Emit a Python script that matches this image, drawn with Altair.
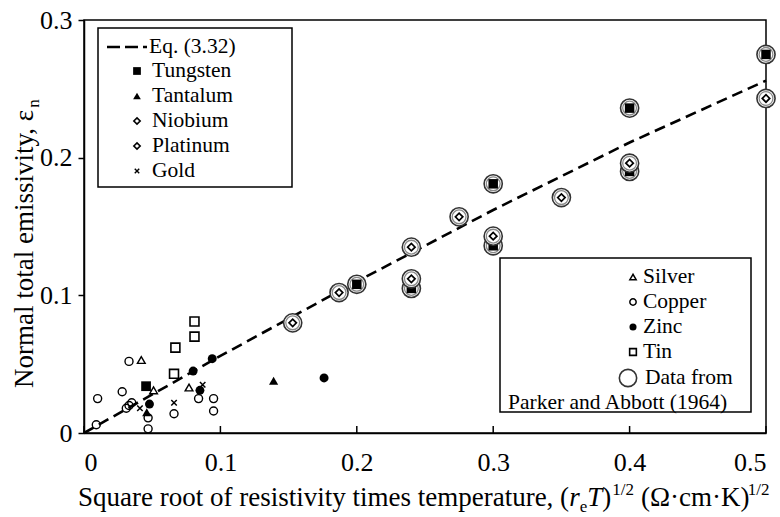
import altair as alt
import pandas as pd

# ---- Eq. (3.32) curve ----
eq_x = [0.0, 0.1, 0.2, 0.3, 0.4, 0.5]
eq_y = [0.0, 0.056, 0.110, 0.162, 0.211, 0.256]

# ---- measured points, by material ----
tungsten_x = [0.0455]
tungsten_y = [0.034]
tantalum_x = [0.046, 0.139]
tantalum_y = [0.015, 0.038]
gold_x = [0.041, 0.066, 0.087]
gold_y = [0.018, 0.022, 0.035]
silver_x = [0.042, 0.051, 0.077]
silver_y = [0.053, 0.031, 0.033]
copper_x = [0.010, 0.009, 0.033, 0.028, 0.031, 0.033, 0.035, 0.047, 0.047, 0.066, 0.084, 0.095, 0.095]
copper_y = [0.025, 0.006, 0.052, 0.030, 0.018, 0.020, 0.022, 0.011, 0.003, 0.014, 0.025, 0.025, 0.016]
zinc_x = [0.048, 0.080, 0.094, 0.085, 0.176]
zinc_y = [0.021, 0.045, 0.054, 0.031, 0.040]
tin_x = [0.067, 0.066, 0.081, 0.081]
tin_y = [0.062, 0.043, 0.081, 0.070]

# Parker and Abbott (1964): tungsten and niobium/platinum values
pa_w_x = [0.2, 0.24, 0.3, 0.3, 0.4, 0.4, 0.5]
pa_w_y = [0.108, 0.105, 0.136, 0.181, 0.190, 0.236, 0.275]
pa_d_x = [0.153, 0.187, 0.24, 0.24, 0.275, 0.3, 0.35, 0.4, 0.5]
pa_d_y = [0.080, 0.102, 0.112, 0.135, 0.157, 0.143, 0.171, 0.196, 0.243]

x_ticks = [0, 0.1, 0.2, 0.3, 0.4, 0.5]
y_ticks = [0, 0.1, 0.2, 0.3]

legend_a = ["Tungsten", "Tantalum", "Niobium", "Platinum", "Gold"]
legend_b = ["Silver", "Copper", "Zinc", "Tin"]

FONT = "Liberation Serif"
W, H = 682, 413
LEFT, TOP = 84, 20
LF = 21.5   # legend text size
TF = 27     # axis title size
SF = 17     # sub/superscript size

X_SHAPE = "M-1,-1L1,1M-1,1L1,-1"

xs = alt.Scale(domain=[0, 0.5], nice=False, zero=False)
ys = alt.Scale(domain=[0, 0.3], nice=False, zero=False)
x_axis = alt.Axis(values=x_ticks, format="~g", ticks=False, labelPadding=16,
                  labelFont=FONT, labelFontSize=26, labelColor="black",
                  domainColor="black", domainWidth=1.5, grid=False, title=None)
y_axis = alt.Axis(values=y_ticks, format="~g", tickSize=6, tickWidth=1.5,
                  tickColor="black", labelPadding=6, labelFont=FONT,
                  labelFontSize=26, labelColor="black", domainColor="black",
                  domainWidth=1.5, grid=False, title=None)


def xy_frame(xv, yv):
    return pd.DataFrame({"x": xv, "y": yv})


def enc(chart):
    return chart.encode(x=alt.X("x:Q", scale=xs, axis=x_axis),
                        y=alt.Y("y:Q", scale=ys, axis=y_axis))


def points(xv, yv, **mark):
    return enc(alt.Chart(xy_frame(xv, yv)).mark_point(**mark))


one = pd.DataFrame({"k": [0]})


def px_point(px, py, **mark):
    return alt.Chart(one).mark_point(**mark).encode(
        x=alt.value(px - LEFT), y=alt.value(py - TOP))


def px_text(px, py, txt, size, **mark):
    return alt.Chart(one).mark_text(text=txt, font=FONT, fontSize=size,
                                    color="black", **mark).encode(
        x=alt.value(px - LEFT), y=alt.value(py - TOP))


def px_box(x1, y1, x2, y2):
    return alt.Chart(one).mark_rect(fill="white", stroke="black",
                                    strokeWidth=1.5).encode(
        x=alt.value(x1 - LEFT), x2=alt.value(x2 - LEFT),
        y=alt.value(y1 - TOP), y2=alt.value(y2 - TOP))


# Times / Liberation Serif advance widths (per 1000 em)
ADV = {" ": 250, "(": 333, ")": 333, ",": 250, ".": 250, "/": 278, "1": 500,
       "2": 500, "S": 556, "N": 722, "K": 722, "a": 444, "c": 444, "e": 444,
       "f": 333, "i": 278, "l": 278, "m": 778, "n": 500, "o": 500, "p": 500,
       "q": 500, "r": 333, "s": 389, "t": 278, "u": 500, "v": 500, "y": 500,
       "Ω": 768, "·": 250, "ε": 439}
ADV_IT = {"r": 389, "T": 556, "e": 444}


def width(s, size, italic=False):
    table = ADV_IT if italic else ADV
    return sum(table.get(ch, ADV.get(ch, 500)) for ch in s) * size / 1000.0


layers = []

# equation curve
layers.append(enc(alt.Chart(xy_frame(eq_x, eq_y)).mark_line(
    color="black", strokeWidth=2.6, strokeDash=[11, 6])))

# individual metals
layers.append(points(copper_x, copper_y, shape="circle", filled=False,
                     color="black", strokeWidth=1.4, size=64, opacity=1))
layers.append(points(silver_x, silver_y, shape="triangle-up", filled=False,
                     color="black", strokeWidth=1.4, size=60, opacity=1))
layers.append(points(tin_x, tin_y, shape="square", filled=False,
                     color="black", strokeWidth=1.6, size=80, opacity=1))
layers.append(points(gold_x, gold_y, shape=X_SHAPE, filled=False,
                     color="black", strokeWidth=1.5, size=30, opacity=1))
layers.append(points(zinc_x, zinc_y, shape="circle", filled=True,
                     color="black", size=80, opacity=1))
layers.append(points(tantalum_x, tantalum_y, shape="triangle-up", filled=True,
                     color="black", size=85, opacity=1))
layers.append(points(tungsten_x, tungsten_y, shape="square", filled=True,
                     color="black", size=95, opacity=1))


def ring(xv, yv):
    outer = points(xv, yv, shape="circle", fill="white", fillOpacity=1,
                   stroke="#333333", strokeWidth=1.6, size=330, opacity=1)
    inner = points(xv, yv, shape="circle", filled=False, stroke="#8a8a8a",
                   strokeWidth=1.3, size=190, opacity=1)
    return [outer, inner]


# Parker and Abbott values, circled
layers += ring(pa_w_x, pa_w_y)
layers.append(points(pa_w_x, pa_w_y, shape="square", filled=True,
                     color="black", size=90, opacity=1))
layers += ring(pa_d_x, pa_d_y)
layers.append(points(pa_d_x, pa_d_y, shape="diamond", filled=False,
                     color="black", strokeWidth=1.7, size=55, opacity=1))

# inward x ticks
layers.append(alt.Chart(pd.DataFrame({"x": x_ticks})).mark_rule(
    color="black", strokeWidth=1.5).encode(
    x=alt.X("x:Q", scale=xs, axis=x_axis), y=alt.value(H), y2=alt.value(H - 7)))

# ---- upper-left legend ----
layers.append(px_box(98, 28, 292, 187))
layers.append(alt.Chart(one).mark_rule(
    color="black", strokeWidth=2.6, strokeDash=[13, 5]).encode(
    x=alt.value(107 - LEFT), x2=alt.value(147 - LEFT), y=alt.value(47 - TOP)))
layers.append(px_text(149, 47, "Eq. (3.32)", LF, align="left", baseline="middle"))
sym_a = [dict(shape="square", filled=True, size=60),
         dict(shape="triangle-up", filled=True, size=60),
         dict(shape="diamond", filled=False, strokeWidth=1.6, size=40),
         dict(shape="diamond", filled=False, strokeWidth=1.6, size=40),
         dict(shape=X_SHAPE, filled=False, strokeWidth=1.4, size=20)]
for i, (name, sym) in enumerate(zip(legend_a, sym_a)):
    py = 71 + i * 25
    layers.append(px_point(137, py, color="black", opacity=1, **sym))
    layers.append(px_text(152, py, name, LF, align="left", baseline="middle"))

# ---- lower-right legend ----
layers.append(px_box(500, 258, 751, 412))
sym_b = [dict(shape="triangle-up", filled=False, strokeWidth=1.5, size=40),
         dict(shape="circle", filled=False, strokeWidth=1.5, size=40),
         dict(shape="circle", filled=True, size=50),
         dict(shape="square", filled=False, strokeWidth=1.6, size=45)]
for i, (name, sym) in enumerate(zip(legend_b, sym_b)):
    py = 277 + i * 25
    layers.append(px_point(633, py, color="black", opacity=1, **sym))
    layers.append(px_text(643, py, name, LF, align="left", baseline="middle"))
layers.append(px_point(628, 378, shape="circle", filled=False, color="#333333",
                       strokeWidth=1.6, size=300, opacity=1))
layers.append(px_text(645, 378, "Data from", LF, align="left", baseline="middle"))
layers.append(px_text(508, 403, "Parker and Abbott (1964)", LF, align="left",
                      baseline="middle"))

# ---- x-axis title, built from pieces (italics, sub- and superscripts) ----
base = 506
cx = 78
pieces = [("Square root of resistivity times temperature, (", TF, False, 0, 0),
          ("r", TF, True, 0, 0), ("e", SF, False, 6, 0), ("T", TF, True, 0, 0),
          (")", TF, False, 0, 1), ("1/2", SF, False, -11, 7),
          ("(Ω·cm·K)", TF, False, 0, 2), ("1/2", SF, False, -11, 0)]
for txt, size, it, shift, gap in pieces:
    layers.append(px_text(cx, base + shift, txt, size, align="left",
                          baseline="alphabetic",
                          fontStyle="italic" if it else "normal"))
    cx += width(txt, size, it) + gap

# ---- y-axis title, rotated ----
main_y = "Normal total emissivity, ε"
y0, bx = 388, 33
layers.append(px_text(bx, y0, main_y, TF, align="left", baseline="alphabetic",
                      angle=270))
layers.append(px_text(bx + 6, y0 - width(main_y, TF), "n", SF, align="left",
                      baseline="alphabetic", angle=270))

chart = alt.layer(*layers).properties(
    width=W, height=H, autosize=alt.AutoSizeParams(type="none"),
    padding={"left": LEFT, "top": TOP, "right": 780 - LEFT - W,
             "bottom": 517 - TOP - H},
    background="white",
).configure_view(stroke="black", strokeWidth=1.5)

chart.save("out.html", embed_options={"renderer": "svg", "actions": False})
